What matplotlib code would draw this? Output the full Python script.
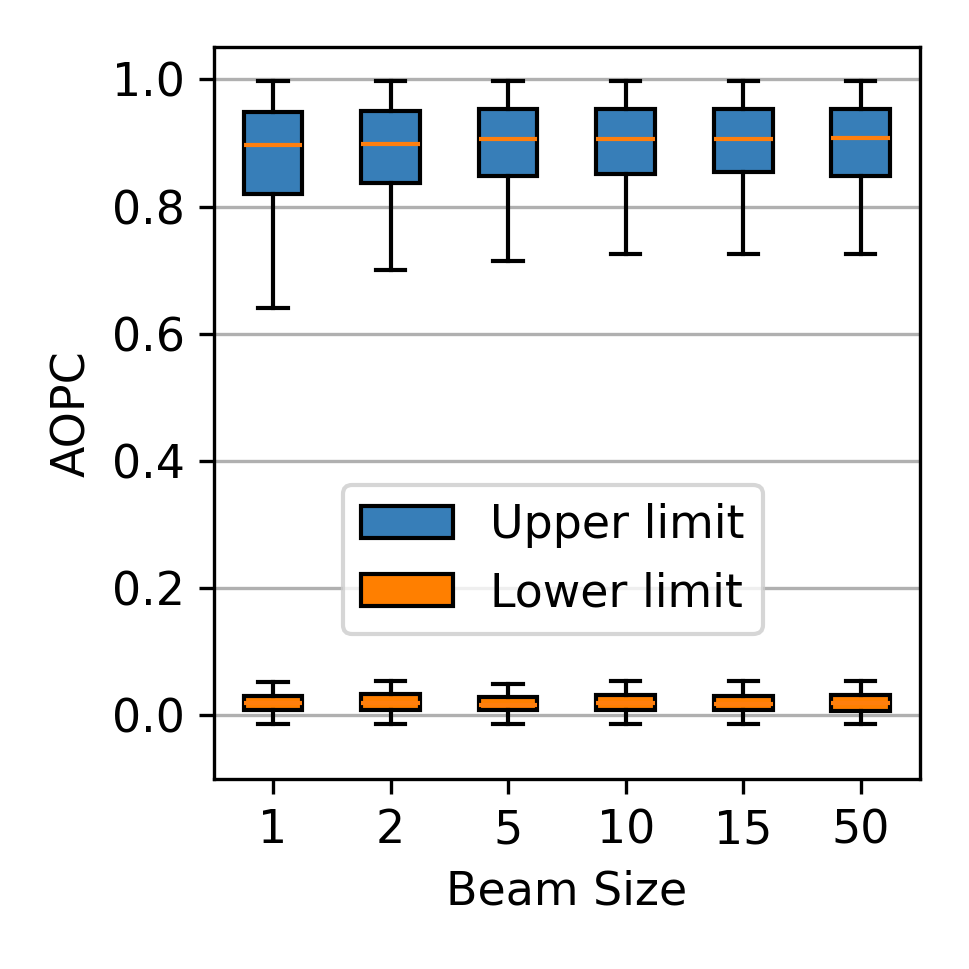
import matplotlib
matplotlib.use("Agg")
import matplotlib.pyplot as plt
from matplotlib.patches import Patch

plt.rcParams["font.size"] = 11

beam_sizes = ["1", "2", "5", "10", "15", "50"]

# upper limit box stats
up_whislo = [0.640, 0.700, 0.714, 0.725, 0.725, 0.725]
up_q1 = [0.819, 0.837, 0.848, 0.851, 0.854, 0.848]
up_med = [0.897, 0.898, 0.906, 0.906, 0.906, 0.907]
up_q3 = [0.949, 0.950, 0.953, 0.953, 0.953, 0.953]
up_whishi = [0.997, 0.997, 0.997, 0.997, 0.997, 0.997]

# lower limit box stats
lo_whislo = [-0.013, -0.013, -0.013, -0.013, -0.013, -0.013]
lo_q1 = [0.008, 0.008, 0.008, 0.008, 0.008, 0.007]
lo_med = [0.019, 0.019, 0.017, 0.019, 0.018, 0.019]
lo_q3 = [0.030, 0.033, 0.029, 0.032, 0.031, 0.032]
lo_whishi = [0.053, 0.054, 0.050, 0.054, 0.054, 0.054]


def make_stats(whislo, q1, med, q3, whishi):
    return [dict(whislo=a, q1=b, med=c, q3=d, whishi=e, fliers=[])
            for a, b, c, d, e in zip(whislo, q1, med, q3, whishi)]


fig, ax = plt.subplots(figsize=(3.23, 3.23), dpi=300)
pos = range(1, len(beam_sizes) + 1)

b1 = ax.bxp(make_stats(up_whislo, up_q1, up_med, up_q3, up_whishi),
            positions=pos, widths=0.5, patch_artist=True, showfliers=False)
for p in b1["boxes"]:
    p.set_facecolor("#377eb8")
b2 = ax.bxp(make_stats(lo_whislo, lo_q1, lo_med, lo_q3, lo_whishi),
            positions=pos, widths=0.5, patch_artist=True, showfliers=False)
for p in b2["boxes"]:
    p.set_facecolor("#ff7f00")

ax.set_xticks(list(pos))
ax.set_xticklabels(beam_sizes)
ax.set_xlim(0.5, 6.5)
ax.set_ylim(-0.1, 1.05)
ax.yaxis.grid(True, color="#b0b0b0")
ax.set_axisbelow(True)
ax.set_xlabel("Beam Size")
ax.set_ylabel("AOPC")

handles = [Patch(facecolor="#377eb8", edgecolor="black", label="Upper limit"),
           Patch(facecolor="#ff7f00", edgecolor="black", label="Lower limit")]
ax.legend(handles=handles, loc="center", bbox_to_anchor=(0.48, 0.3), fontsize=11)

plt.subplots_adjust(left=0.221, right=0.949, top=0.951, bottom=0.196)
plt.savefig("out.png", dpi=300)
